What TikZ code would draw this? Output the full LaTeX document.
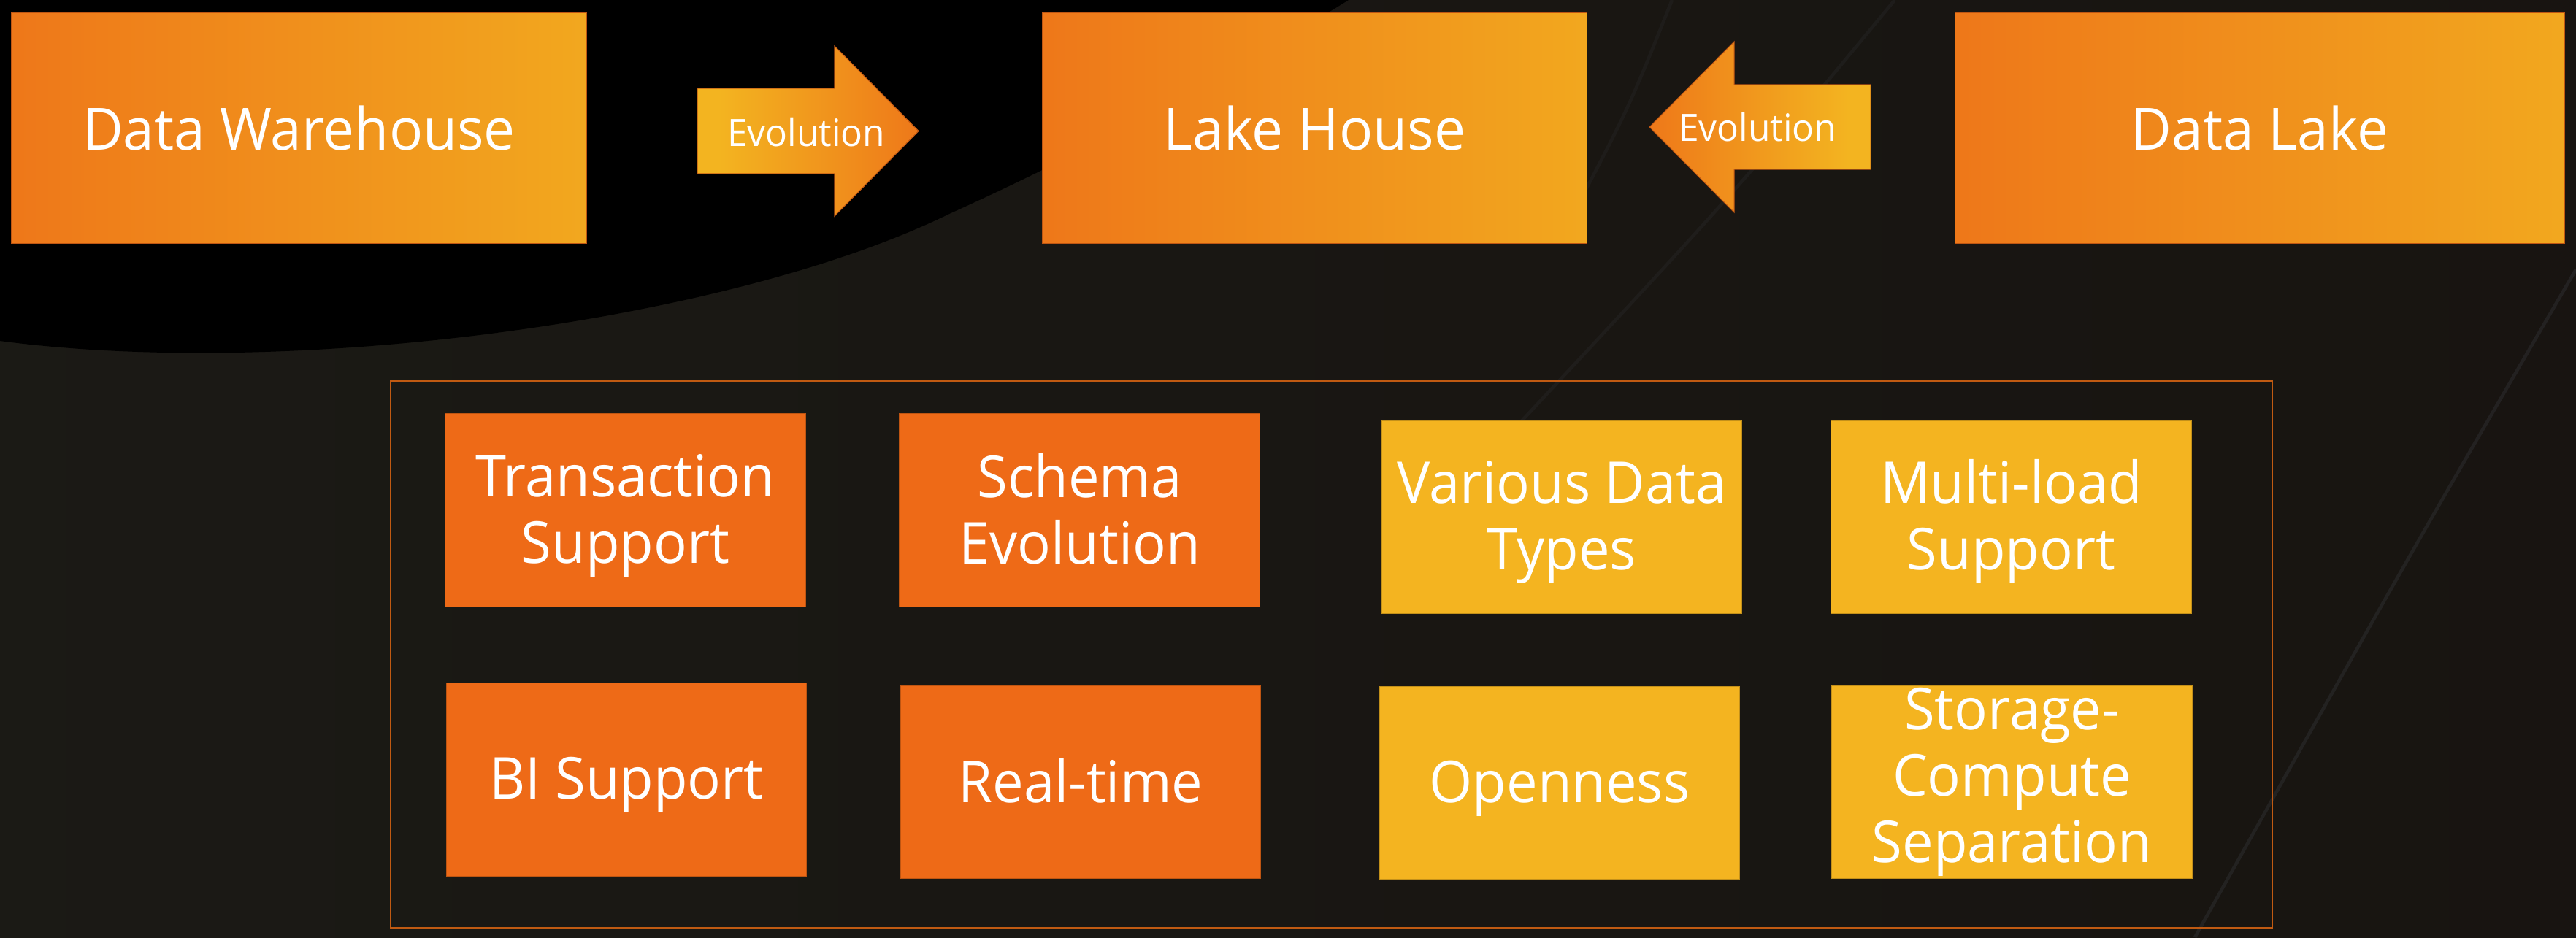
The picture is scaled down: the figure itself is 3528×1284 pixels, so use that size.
\documentclass[tikz,border=0pt]{standalone}
\usepackage{fontspec}
\setmainfont[FakeStretch=0.96]{Open Sans}
\definecolor{orA}{HTML}{ED6B18}
\definecolor{ylA}{HTML}{F3B420}
\definecolor{orS}{HTML}{EE6A17}
\definecolor{ylS}{HTML}{F4B420}
\definecolor{frameC}{HTML}{C05A12}
\definecolor{bgA}{HTML}{1E1D18}
\definecolor{bgB}{HTML}{191713}
\definecolor{bgC}{HTML}{17120F}
\definecolor{streakC}{HTML}{3A3B40}
\pgfdeclarehorizontalshading{boxgrad}{100bp}{color(0bp)=(orA); color(12bp)=(orA); color(88bp)=(ylA); color(100bp)=(ylA)}
\pgfdeclarehorizontalshading{arrowright}{100bp}{color(0bp)=(ylA); color(30bp)=(ylA); color(85bp)=(orA); color(100bp)=(orA)}
\pgfdeclarehorizontalshading{arrowleft}{100bp}{color(0bp)=(orA); color(15bp)=(orA); color(70bp)=(ylA); color(100bp)=(ylA)}
\pgfdeclarehorizontalshading{bggrad}{100bp}{color(0bp)=(bgA); color(45bp)=(bgB); color(100bp)=(bgC)}
% strut that centres each line block on its capitals
\newcommand{\capstrut}{\rule[-0.2em]{0pt}{1.114em}}
\begin{document}
\begin{tikzpicture}[x=0.01cm,y=-0.01cm,
  bigbox/.style={shading=boxgrad, draw=orA!80!black, line width=0.3pt,
    minimum height=3.15cm, inner sep=0pt, text=white,
    font=\fontsize{22.7}{27}\selectfont},
  featbox/.style={draw=#1!80!black, line width=0.3pt, fill=#1,
    minimum width=4.93cm, minimum height=2.64cm, inner sep=0pt,
    text=white, align=center, font=\fontsize{22.5}{25.8}\selectfont},
  evolabel/.style={text=white, inner sep=0pt, font=\fontsize{14.7}{17}\selectfont},
  streak/.style={draw=streakC, line width=1.3pt, opacity=0.35},
]
\useasboundingbox (0,0) rectangle (3528,1284);

% backdrop
\shade[shading=bggrad] (0,0) rectangle (3528,1284);
\draw[streak] (3528,369) .. controls (3300,760) .. (3006,1284);
\draw[streak, opacity=0.2] (2595,0) .. controls (2380,260) .. (1950,720);
\draw[streak, opacity=0.18] (2290,0) .. controls (2230,150) .. (2140,320);
\fill[black] (0,0) -- (0,467) .. controls (400,520) and (1000,440) .. (1300,293)
  .. controls (1550,180) and (1750,60) .. (1847,0) -- cycle;

% top row
\node[bigbox, minimum width=7.87cm] (dw) at (409.5,175.5) {Data Warehouse};
\node[bigbox, minimum width=7.45cm] (lh) at (1800.5,175.5) {Lake House};
\node[bigbox, minimum width=8.34cm] (dl) at (3095,175.5) {Data Lake};

% evolution arrows
\shade[shading=arrowright, draw=orA!80!black, line width=0.3pt]
  (955,121) -- (1143,121) -- (1143,63) -- (1258,179.5) -- (1143,296)
  -- (1143,238) -- (955,238) -- cycle;
\node[evolabel] (ev1) at (1104,181.5) {Evolution};
\shade[shading=arrowleft, draw=orA!80!black, line width=0.3pt]
  (2562,116) -- (2375,116) -- (2375,57) -- (2259,174) -- (2375,291)
  -- (2375,232) -- (2562,232) -- cycle;
\node[evolabel] (ev2) at (2407,174) {Evolution};

% feature panel
\draw[frameC, line width=0.7pt] (535,522) rectangle (3112,1271);
\node[featbox=orS] (ts) at (856.5,699) {\capstrut Transaction\\\capstrut Support};
\node[featbox=orS] (se) at (1478.5,699) {\capstrut Schema\\\capstrut Evolution};
\node[featbox=orS] (bi) at (858,1068) {\capstrut BI Support};
\node[featbox=orS] (rt) at (1480,1071.5) {\capstrut Real-time};
\node[featbox=ylS] (vd) at (2139,708.5) {\capstrut Various Data\\\capstrut Types};
\node[featbox=ylS] (ml) at (2754.5,708.5) {\capstrut Multi-load\\\capstrut Support};
\node[featbox=ylS] (op) at (2136,1072.5) {\capstrut Openness};
% three lines fill the box, so no struts here
\node[featbox=ylS] (sc) at (2755.5,1071.5) {Storage-\\Compute\\Separation};
\end{tikzpicture}
\end{document}
